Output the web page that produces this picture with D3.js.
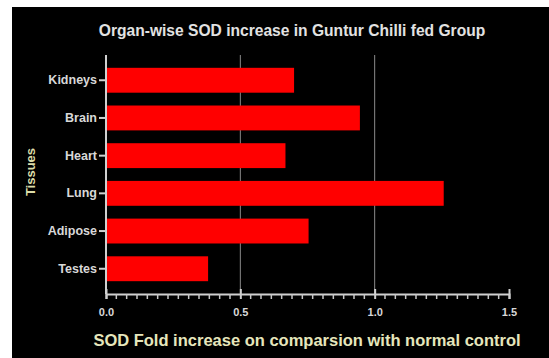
<!DOCTYPE html>
<html>
<head>
<meta charset="utf-8">
<script src="https://cdn.jsdelivr.net/npm/d3@7"></script>
<style>
  body { margin: 0; background: #fff; }
  svg { display: block; font-family: "Liberation Sans", Arial, sans-serif; }
</style>
</head>
<body>
<div id="chart"></div>
<script>
// tissues from top to bottom
const tissues = ["Kidneys", "Brain", "Heart", "Lung", "Adipose", "Testes"];
const foldIncrease = [0.70, 0.945, 0.668, 1.257, 0.754, 0.38];
const xTicks = [0, 0.5, 1.0, 1.5];

const W = 549, H = 358;
const svg = d3.select("#chart").append("svg").attr("width", W).attr("height", H);

// black panel (white strip on top/left like the screenshot)
svg.append("rect").attr("x", 12).attr("y", 7).attr("width", W - 12).attr("height", H - 7).attr("fill", "#000");

const x = d3.scaleLinear().domain([0, 1.5]).range([106, 509]);
const y = d3.scaleBand().domain(tissues).range([55, 294]).padding(0.34);

// grid lines at 0.5 and 1.0
svg.append("g")
  .selectAll("line")
  .data(xTicks.filter(d => d > 0 && d < 1.5))
  .join("line")
  .attr("x1", d => x(d)).attr("x2", d => x(d))
  .attr("y1", 55).attr("y2", 294)
  .attr("stroke", "#8a8a8a").attr("stroke-width", 1);

// bars
svg.append("g")
  .selectAll("rect")
  .data(tissues)
  .join("rect")
  .attr("x", x(0))
  .attr("y", d => y(d))
  .attr("width", (d, i) => x(foldIncrease[i]) - x(0))
  .attr("height", y.bandwidth())
  .attr("fill", "#ff0000");

// x axis with minor ticks
const xAxis = svg.append("g").attr("transform", "translate(0,294)");
xAxis.call(d3.axisBottom(x).tickValues(xTicks).tickFormat(d3.format(".1f")).tickSize(5).tickPadding(9))
  .call(g => g.select(".domain").attr("stroke", "#d0d0d0").attr("stroke-width", 2))
  .call(g => g.selectAll(".tick line").attr("stroke", "#d0d0d0").attr("stroke-width", 2).attr("y1", -5).attr("y2", 5))
  .call(g => g.selectAll(".tick text").attr("fill", "#d8d8d8").attr("font-size", "11px").attr("font-weight", "bold").attr("font-family", "Liberation Sans, Arial, sans-serif"));
const minor = d3.range(1, 39).map(k => k * 1.5 / 39).filter(v => !xTicks.some(t => Math.abs(t - v) < 1e-6));
xAxis.append("g").selectAll("line").data(minor).join("line")
  .attr("x1", d => x(d)).attr("x2", d => x(d))
  .attr("y1", 0).attr("y2", 5)
  .attr("stroke", "#c8c8c8").attr("stroke-width", 1.5);

// y axis
svg.append("g").attr("transform", "translate(106,0)")
  .call(d3.axisLeft(y).tickSize(7).tickPadding(2))
  .call(g => g.select(".domain").attr("stroke", "#d0d0d0").attr("stroke-width", 2).attr("d", "M0,55V294"))
  .call(g => g.selectAll(".tick line").attr("stroke", "#d0d0d0").attr("stroke-width", 2))
  .call(g => g.selectAll(".tick text").attr("fill", "#d8d8d8").attr("font-size", "12.5px").attr("font-weight", "bold").attr("font-family", "Liberation Sans, Arial, sans-serif"));

// title
svg.append("text")
  .attr("x", 292).attr("y", 36)
  .attr("text-anchor", "middle")
  .attr("fill", "#e2e2e2")
  .attr("font-size", "15.6px").attr("font-weight", "bold")
  .text("Organ-wise SOD increase in Guntur Chilli fed Group");

// axis titles
svg.append("text")
  .attr("x", 307).attr("y", 346)
  .attr("text-anchor", "middle")
  .attr("fill", "#e6e6bc")
  .attr("font-size", "16.5px").attr("font-weight", "bold")
  .text("SOD Fold increase on comparsion with normal control");

svg.append("text")
  .attr("transform", "translate(35,172) rotate(-90)")
  .attr("text-anchor", "middle")
  .attr("fill", "#dcdca8")
  .attr("font-size", "13px").attr("font-weight", "bold")
  .text("Tissues");
</script>
</body>
</html>
